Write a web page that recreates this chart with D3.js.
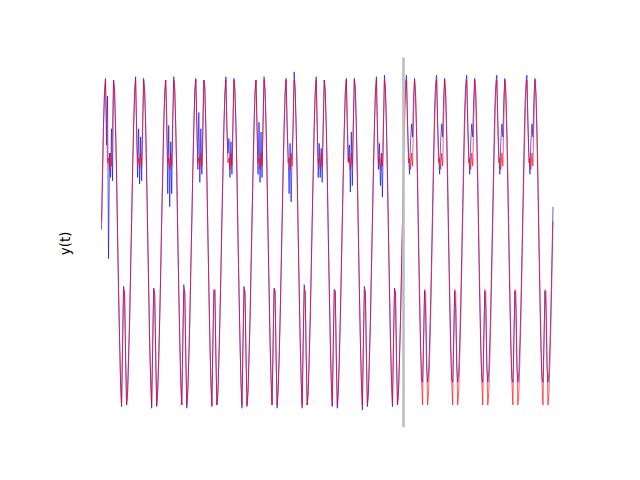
<!DOCTYPE html>
<html>
<head>
<meta charset="utf-8">
<script src="https://cdn.jsdelivr.net/npm/d3@7"></script>
<style>
  html, body { margin: 0; padding: 0; background: #fff; }
  svg { display: block; }
</style>
</head>
<body>
<svg id="chart" width="640" height="480"></svg>
<script>
// True signal y(t), one sample per time step (rows = cycles)
const yTrue = [
  0.13,0.43,0.71,0.92,
  1.00,0.72,0.49,0.52,0.45,0.55,0.47,0.75,1.00,0.94,0.72,0.42,0.06,-0.28,-0.60,-0.85,-1.00,-0.63,-0.29,-0.30,-0.69,-1.00,-0.92,-0.72,-0.48,-0.18,0.13,0.43,0.71,0.92,
  1.00,0.72,0.49,0.52,0.45,0.55,0.47,0.75,1.00,0.94,0.72,0.42,0.06,-0.28,-0.60,-0.85,-1.00,-0.63,-0.29,-0.30,-0.69,-1.00,-0.92,-0.72,-0.48,-0.18,0.13,0.43,0.71,0.92,
  1.00,0.72,0.49,0.52,0.45,0.55,0.47,0.75,1.00,0.94,0.72,0.42,0.06,-0.28,-0.60,-0.85,-1.00,-0.63,-0.29,-0.30,-0.69,-1.00,-0.92,-0.72,-0.48,-0.18,0.13,0.43,0.71,0.92,
  1.00,0.72,0.49,0.52,0.45,0.55,0.47,0.75,1.00,0.94,0.72,0.42,0.06,-0.28,-0.60,-0.85,-1.00,-0.63,-0.29,-0.30,-0.69,-1.00,-0.92,-0.72,-0.48,-0.18,0.13,0.43,0.71,0.92,
  1.00,0.72,0.49,0.52,0.45,0.55,0.47,0.75,1.00,0.94,0.72,0.42,0.06,-0.28,-0.60,-0.85,-1.00,-0.63,-0.29,-0.30,-0.69,-1.00,-0.92,-0.72,-0.48,-0.18,0.13,0.43,0.71,0.92,
  1.00,0.72,0.49,0.52,0.45,0.55,0.47,0.75,1.00,0.94,0.72,0.42,0.06,-0.28,-0.60,-0.85,-1.00,-0.63,-0.29,-0.30,-0.69,-1.00,-0.92,-0.72,-0.48,-0.18,0.13,0.43,0.71,0.92,
  1.00,0.72,0.49,0.52,0.45,0.55,0.47,0.75,1.00,0.94,0.72,0.42,0.06,-0.28,-0.60,-0.85,-1.00,-0.63,-0.29,-0.30,-0.69,-1.00,-0.92,-0.72,-0.48,-0.18,0.13,0.43,0.71,0.92,
  1.00,0.72,0.49,0.52,0.45,0.55,0.47,0.75,1.00,0.94,0.72,0.42,0.06,-0.28,-0.60,-0.85,-1.00,-0.63,-0.29,-0.30,-0.69,-1.00,-0.92,-0.72,-0.48,-0.18,0.13,0.43,0.71,0.92,
  1.00,0.72,0.49,0.52,0.45,0.55,0.47,0.75,1.00,0.94,0.72,0.42,0.06,-0.28,-0.60,-0.85,-1.00,-0.63,-0.29,-0.30,-0.69,-1.00,-0.92,-0.72,-0.48,-0.18,0.13,0.43,0.71,0.92,
  1.00,0.72,0.49,0.52,0.45,0.55,0.47,0.75,1.00,0.94,0.72,0.42,0.06,-0.28,-0.60,-0.85,-1.00,-0.63,-0.29,-0.30,-0.69,-1.00,-0.92,-0.72,-0.48,-0.18,0.13,0.43,0.71,0.92,
  1.00,0.72,0.49,0.52,0.45,0.55,0.47,0.75,1.00,0.94,0.72,0.42,0.06,-0.28,-0.60,-0.85,-1.00,-0.63,-0.29,-0.30,-0.69,-1.00,-0.92,-0.72,-0.48,-0.18,0.13,0.43,0.71,0.92,
  1.00,0.72,0.49,0.52,0.45,0.55,0.47,0.75,1.00,0.94,0.72,0.42,0.06,-0.28,-0.60,-0.85,-1.00,-0.63,-0.29,-0.30,-0.69,-1.00,-0.92,-0.72,-0.48,-0.18,0.13,0.43,0.71,0.92,
  1.00,0.72,0.49,0.52,0.45,0.55,0.47,0.75,1.00,0.94,0.72,0.42,0.06,-0.28,-0.60,-0.85,-1.00,-0.63,-0.29,-0.30,-0.69,-1.00,-0.92,-0.72,-0.48,-0.18,0.13,0.43,0.71,0.92,
  1.00,0.72,0.49,0.52,0.45,0.55,0.47,0.75,1.00,0.94,0.72,0.42,0.06,-0.28,-0.60,-0.85,-1.00,-0.63,-0.29,-0.30,-0.69,-1.00,-0.92,-0.72,-0.48,-0.18,0.13,0.43,0.71,0.92,
  1.00,0.72,0.49,0.52,0.45,0.55,0.47,0.75,1.00,0.94,0.72,0.42,0.06,-0.28,-0.60,-0.85,-1.00,-0.63,-0.29,-0.30,-0.69,-1.00,-0.92,-0.72,-0.48,-0.18,0.13
];

// Observed (noisy) values for the training part, then the model's forecast
const yObserved = [
  0.08,0.40,0.73,0.93,
  1.01,0.60,0.90,-0.10,0.55,0.40,0.70,0.38,1.00,0.95,0.70,0.44,0.05,-0.30,-0.58,-0.87,-1.01,-0.62,-0.27,-0.31,-0.70,-1.00,-0.93,-0.70,-0.50,-0.17,0.12,0.45,0.70,0.93,
  1.02,0.68,0.40,0.70,0.36,0.65,0.38,0.68,1.01,0.93,0.73,0.40,0.08,-0.27,-0.62,-0.84,-1.02,-0.64,-0.28,-0.32,-0.68,-1.01,-0.91,-0.73,-0.47,-0.19,0.15,0.42,0.72,0.91,
  1.00,0.80,0.30,0.72,0.22,0.62,0.30,0.75,1.02,0.95,0.71,0.43,0.04,-0.29,-0.59,-0.86,-1.00,-0.62,-0.26,-0.31,-0.70,-1.02,-0.92,-0.71,-0.49,-0.16,0.12,0.44,0.70,0.94,
  1.01,0.74,0.45,0.80,0.37,0.70,0.42,0.65,1.00,0.96,0.70,0.41,0.07,-0.27,-0.61,-0.85,-1.01,-0.63,-0.30,-0.29,-0.70,-1.00,-0.93,-0.72,-0.47,-0.19,0.14,0.42,0.72,0.92,
  1.02,0.70,0.55,0.64,0.40,0.62,0.42,0.70,1.01,0.93,0.72,0.43,0.05,-0.29,-0.60,-0.86,-1.02,-0.62,-0.27,-0.31,-0.68,-1.01,-0.92,-0.70,-0.49,-0.17,0.13,0.43,0.71,0.93,
  1.00,0.71,0.42,0.74,0.37,0.68,0.40,0.72,1.02,0.94,0.73,0.41,0.06,-0.28,-0.61,-0.84,-1.00,-0.64,-0.28,-0.30,-0.70,-1.02,-0.91,-0.73,-0.48,-0.18,0.12,0.44,0.70,0.92,
  1.01,0.73,0.55,0.30,0.61,0.25,0.55,0.70,1.05,0.95,0.71,0.42,0.07,-0.29,-0.59,-0.85,-1.02,-0.62,-0.26,-0.31,-0.69,-1.00,-0.93,-0.71,-0.48,-0.19,0.14,0.42,0.72,0.93,
  1.02,0.72,0.40,0.61,0.40,0.58,0.37,0.70,1.00,0.93,0.72,0.43,0.05,-0.27,-0.60,-0.86,-1.01,-0.63,-0.29,-0.30,-0.70,-1.02,-0.92,-0.72,-0.47,-0.17,0.13,0.43,0.70,0.92,
  1.01,0.72,0.50,0.60,0.31,0.68,0.35,0.72,1.01,0.95,0.71,0.41,0.06,-0.29,-0.61,-0.85,-1.03,-0.62,-0.27,-0.31,-0.69,-1.01,-0.93,-0.71,-0.49,-0.18,0.12,0.44,0.71,0.93,
  1.02,0.70,0.45,0.61,0.35,0.55,0.28,0.68,1.03,0.94,0.72,0.42,0.07,-0.28,-0.60,-0.84,-1.01,-0.63,-0.28,-0.31,-0.70,-1.00,-0.92,-0.72,-0.48,-0.18,0.13,
  // forecast
  0.55,0.83,0.98,
  1.03,0.75,0.55,0.42,0.62,0.73,0.65,0.90,1.01,0.90,0.66,0.33,-0.03,-0.37,-0.65,-0.84,-0.86,-0.60,-0.30,-0.40,-0.76,-0.86,-0.80,-0.62,-0.38,-0.08,0.22,0.55,0.83,0.98,
  1.03,0.75,0.55,0.42,0.62,0.73,0.65,0.90,1.01,0.90,0.66,0.33,-0.03,-0.37,-0.65,-0.84,-0.86,-0.60,-0.30,-0.40,-0.76,-0.86,-0.80,-0.62,-0.38,-0.08,0.22,0.55,0.83,0.98,
  1.03,0.75,0.55,0.42,0.62,0.73,0.65,0.90,1.01,0.90,0.66,0.33,-0.03,-0.37,-0.65,-0.84,-0.86,-0.60,-0.30,-0.40,-0.76,-0.86,-0.80,-0.62,-0.38,-0.08,0.22,0.55,0.83,0.98,
  1.03,0.75,0.55,0.42,0.62,0.73,0.65,0.90,1.01,0.90,0.66,0.33,-0.03,-0.37,-0.65,-0.84,-0.86,-0.60,-0.30,-0.40,-0.76,-0.86,-0.80,-0.62,-0.38,-0.08,0.22,0.55,0.83,0.98,
  1.03,0.75,0.55,0.42,0.62,0.73,0.65,0.90,1.01,0.90,0.66,0.33,-0.03,-0.37,-0.65,-0.84,-0.86,-0.60,-0.30,-0.40,-0.76,-0.86,-0.80,-0.62,-0.38,-0.08,0.22
];

const splitTime = 301;      // train / forecast boundary (time step)
const timeDomain = [0, 450];
const yDomain = [-1, 1];
const yLabel = "y(t)";

// ---- layout (matplotlib-like axes box) ----
const axLeft = 80, axRight = 576, axTop = 57.6, axBottom = 427.2;

const svg = d3.select("#chart");
svg.append("rect").attr("width", 640).attr("height", 480).attr("fill", "#fff");

const x = d3.scaleLinear().domain(timeDomain).range([101.5, 553]);
const y = d3.scaleLinear().domain(yDomain).range([405, 80]);

const line = d3.line()
  .x((d, i) => x(i))
  .y(d => y(d));

svg.append("path")
  .datum(yObserved)
  .attr("d", line)
  .attr("fill", "none")
  .attr("stroke", "#0000ff")
  .attr("stroke-opacity", 0.75)
  .attr("stroke-width", 0.85);

svg.append("path")
  .datum(yTrue)
  .attr("d", line)
  .attr("fill", "none")
  .attr("stroke", "#ff0000")
  .attr("stroke-opacity", 0.75)
  .attr("stroke-width", 0.85);

svg.append("line")
  .attr("x1", x(splitTime)).attr("x2", x(splitTime))
  .attr("y1", axTop).attr("y2", axBottom)
  .attr("stroke", "#c0c0c0")
  .attr("stroke-width", 2.7);

svg.append("text")
  .attr("transform", `translate(70, ${(axTop + axBottom) / 2 + 1}) rotate(-90)`)
  .attr("text-anchor", "middle")
  .attr("font-family", "DejaVu Sans, sans-serif")
  .attr("font-size", "13.33px")
  .attr("fill", "#000")
  .text(yLabel);
</script>
</body>
</html>
